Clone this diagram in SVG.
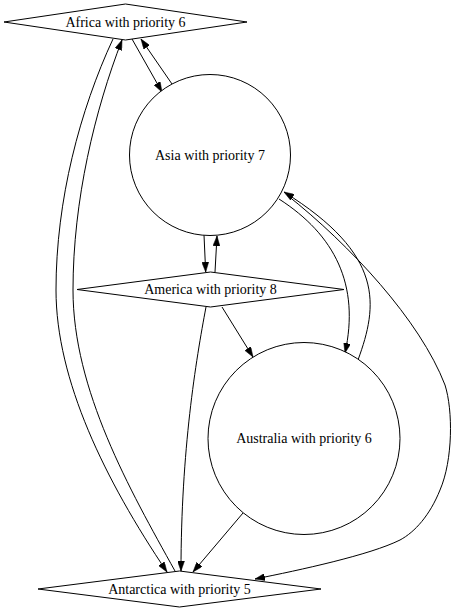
<svg xmlns="http://www.w3.org/2000/svg" width="456" height="611" viewBox="0 0 456 611">
<style>
.n{fill:#fff;stroke:#000;stroke-width:1}
.t{font-family:"Liberation Serif","Times New Roman",serif;font-size:14px;fill:#000;text-anchor:middle}
.e{fill:none;stroke:#000;stroke-width:1;marker-end:url(#ah)}
</style>
<defs>
<marker id="ah" markerUnits="userSpaceOnUse" viewBox="0 0 10 7" refX="10" refY="3.5" markerWidth="10" markerHeight="7" orient="auto">
<path d="M0,0 L10,3.5 L0,7 z" fill="#000" stroke="#000" stroke-width="0.5"/>
</marker>
</defs>
<rect width="456" height="611" fill="#fff"/>
<g id="edges">
<path class="e" d="M132,39 L162,92"/>
<path class="e" d="M172,84 L141,39"/>
<path class="e" d="M113,39 C80,110 56,200 56,290 C56,380 105,480 167,572"/>
<path class="e" d="M175,571 C130,490 73,390 73,290 C73,200 95,110 122,40"/>
<path class="e" d="M204,235 L205.7,272"/>
<path class="e" d="M215,272 L217,236"/>
<path class="e" d="M222,307 L253,357"/>
<path class="e" d="M206,307 C196,360 181,450 181,571"/>
<path class="e" d="M279,199 C335,235 360,285 345,353"/>
<path class="e" d="M358,360 C378,305 385,255 284,192"/>
<path class="e" d="M287,195 C350,245 420,320 445,385 C453,410 453,460 440,490 C430,515 415,532 400,540 C370,555 300,570 255,579"/>
<path class="e" d="M243,513 L193,572"/>
</g>
<g id="africa">
<polygon class="n" points="125.5,4 247,22 125.5,40 4,22"/>
<text class="t" x="125.5" y="27">Africa with priority 6</text>
</g>
<g id="asia">
<circle class="n" cx="210" cy="155" r="80.5"/>
<text class="t" x="210" y="160">Asia with priority 7</text>
</g>
<g id="america">
<polygon class="n" points="210.5,272 344,289.5 210.5,307 77,289.5"/>
<text class="t" x="210.5" y="294">America with priority 8</text>
</g>
<g id="australia">
<circle class="n" cx="304" cy="438.5" r="96"/>
<text class="t" x="304" y="443">Australia with priority 6</text>
</g>
<g id="antarctica">
<polygon class="n" points="179.5,571 321,589 179.5,607 38,589"/>
<text class="t" x="179.5" y="594">Antarctica with priority 5</text>
</g>
</svg>
